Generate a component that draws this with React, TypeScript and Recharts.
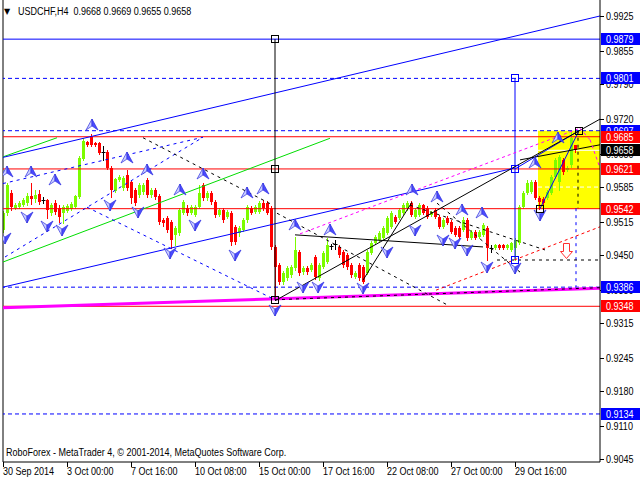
import { ComposedChart, Bar, XAxis, YAxis, ReferenceLine, ReferenceArea, Scatter } from "recharts"

const FONT = "'Liberation Sans', Arial, sans-serif"
const NARROW = 0.82
const BULL = "#7cfc00"
const BEAR = "#ff0000"

// USDCHF H4 candles, bar 0 = 30 Sep 2014 08:00
const opens = [
  0.95, 0.9533, 0.9573, 0.9543, 0.9545, 0.9549, 0.9553, 0.9567, 0.9561, 0.9571,
  0.9559, 0.9559, 0.9533, 0.9553, 0.9543, 0.9533, 0.9537, 0.9541, 0.9545, 0.9565,
  0.9641, 0.9675, 0.9685, 0.9673, 0.9673, 0.9655, 0.9655, 0.9623, 0.9577, 0.9599,
  0.9583, 0.9609, 0.9595, 0.9579, 0.9569, 0.9575, 0.9599, 0.9569, 0.9579, 0.9567,
  0.952, 0.9524, 0.9516, 0.949, 0.9494, 0.9533, 0.9543, 0.9533, 0.9529, 0.9545,
  0.9589, 0.9563, 0.9573, 0.9555, 0.9529, 0.9539, 0.9526, 0.9533, 0.9506, 0.9494,
  0.95, 0.952, 0.9543, 0.9535, 0.9535, 0.9553, 0.9553, 0.9543, 0.9466, 0.943,
  0.9396, 0.9404, 0.941, 0.9424, 0.9456, 0.9416, 0.9424, 0.942, 0.9446, 0.9404,
  0.9426, 0.9436, 0.9468, 0.9472, 0.9466, 0.9456, 0.945, 0.943, 0.9406, 0.943,
  0.9426, 0.9414, 0.9454, 0.9474, 0.948, 0.9484, 0.9494, 0.9506, 0.9526, 0.9524,
  0.9533, 0.9543, 0.9553, 0.9526, 0.9529, 0.9549, 0.9543, 0.9529, 0.9539, 0.9526,
  0.9506, 0.9524, 0.9516, 0.9504, 0.9504, 0.95, 0.952, 0.9484, 0.9496, 0.9486,
  0.949, 0.9504, 0.9464, 0.9464, 0.947, 0.947, 0.9464, 0.946, 0.9464, 0.9474,
  0.9545, 0.9573, 0.9575, 0.9595, 0.9563, 0.9561, 0.9563, 0.9573, 0.9605, 0.9595,
  0.9639, 0.9619, 0.9629, 0.9668,
]
const highs = [
  0.9537, 0.9593, 0.9579, 0.9553, 0.9557, 0.9563, 0.9573, 0.9593, 0.9579, 0.9579,
  0.9565, 0.9561, 0.9553, 0.9559, 0.9549, 0.9549, 0.9551, 0.9555, 0.9569, 0.9647,
  0.9683, 0.9677, 0.969, 0.9675, 0.9675, 0.9667, 0.9659, 0.9627, 0.9603, 0.9609,
  0.9607, 0.9619, 0.9599, 0.9583, 0.9593, 0.9593, 0.9603, 0.9583, 0.9583, 0.9571,
  0.9524, 0.9527, 0.952, 0.9508, 0.9543, 0.9559, 0.9549, 0.9549, 0.9549, 0.9589,
  0.9593, 0.9577, 0.9577, 0.9559, 0.9543, 0.9543, 0.9539, 0.9537, 0.951, 0.9508,
  0.9524, 0.9549, 0.9547, 0.9549, 0.9557, 0.9559, 0.9557, 0.9547, 0.947, 0.9434,
  0.9418, 0.9428, 0.943, 0.9486, 0.946, 0.9428, 0.9428, 0.9434, 0.945, 0.9434,
  0.9458, 0.9484, 0.9472, 0.948, 0.947, 0.946, 0.9454, 0.9434, 0.9418, 0.9434,
  0.943, 0.946, 0.9478, 0.949, 0.9498, 0.9508, 0.9527, 0.9537, 0.9529, 0.9543,
  0.9553, 0.9557, 0.9557, 0.9543, 0.9553, 0.9551, 0.9547, 0.9537, 0.9543, 0.9529,
  0.9524, 0.9527, 0.952, 0.9508, 0.9508, 0.9526, 0.9524, 0.95, 0.95, 0.95,
  0.9514, 0.9508, 0.947, 0.9472, 0.9472, 0.9472, 0.9472, 0.9476, 0.9484, 0.9549,
  0.9577, 0.9599, 0.9599, 0.9599, 0.9567, 0.9565, 0.9579, 0.9609, 0.9643, 0.9649,
  0.9643, 0.9627, 0.9697, 0.9669,
]
const lows = [
  0.9496, 0.9529, 0.9539, 0.9541, 0.9543, 0.9547, 0.9549, 0.9551, 0.9555, 0.9551,
  0.9553, 0.9524, 0.9529, 0.9531, 0.9516, 0.9514, 0.9535, 0.9539, 0.9543, 0.9563,
  0.9639, 0.9667, 0.9667, 0.9667, 0.9651, 0.9639, 0.9621, 0.9565, 0.9575, 0.9597,
  0.9579, 0.9579, 0.9553, 0.9549, 0.9565, 0.9571, 0.9565, 0.9565, 0.9561, 0.9512,
  0.9508, 0.9496, 0.9464, 0.947, 0.949, 0.9531, 0.9529, 0.9531, 0.9527, 0.9543,
  0.9559, 0.9559, 0.9551, 0.9526, 0.9527, 0.9516, 0.9524, 0.947, 0.9472, 0.9488,
  0.9498, 0.9516, 0.9531, 0.9533, 0.9533, 0.9539, 0.9531, 0.9462, 0.9361, 0.9392,
  0.9392, 0.94, 0.9406, 0.942, 0.941, 0.9412, 0.9412, 0.9418, 0.9402, 0.94,
  0.9424, 0.9434, 0.9462, 0.9462, 0.9446, 0.9426, 0.9422, 0.9406, 0.9404, 0.94,
  0.9394, 0.9412, 0.9452, 0.9472, 0.9478, 0.9482, 0.9492, 0.9504, 0.9514, 0.9522,
  0.9531, 0.9539, 0.9527, 0.9524, 0.9527, 0.9531, 0.9524, 0.9527, 0.9524, 0.9504,
  0.9504, 0.9512, 0.9494, 0.9488, 0.9484, 0.9498, 0.948, 0.9482, 0.9482, 0.9484,
  0.9488, 0.944, 0.9456, 0.9462, 0.9462, 0.9462, 0.9462, 0.9458, 0.944, 0.9472,
  0.9543, 0.9571, 0.9573, 0.9561, 0.9542, 0.9551, 0.9561, 0.9571, 0.9603, 0.9579,
  0.9611, 0.9617, 0.9625, 0.9655,
]
const closes = [
  0.9533, 0.9589, 0.9545, 0.9549, 0.9553, 0.9559, 0.9567, 0.9561, 0.9569, 0.9555,
  0.9559, 0.9539, 0.9549, 0.9535, 0.9526, 0.9545, 0.9547, 0.9551, 0.9567, 0.9643,
  0.9677, 0.9669, 0.9669, 0.9669, 0.9653, 0.9655, 0.9623, 0.9579, 0.9601, 0.9605,
  0.9603, 0.9583, 0.9563, 0.9553, 0.9589, 0.9589, 0.9569, 0.9579, 0.9565, 0.9516,
  0.9514, 0.95, 0.948, 0.9504, 0.9539, 0.9555, 0.9533, 0.9545, 0.9545, 0.9573,
  0.9563, 0.9573, 0.9555, 0.9529, 0.9539, 0.952, 0.9535, 0.9476, 0.9476, 0.9504,
  0.952, 0.9545, 0.9533, 0.9545, 0.9553, 0.9543, 0.9533, 0.9466, 0.9426, 0.9396,
  0.9414, 0.9424, 0.9426, 0.946, 0.9414, 0.9424, 0.9416, 0.943, 0.9406, 0.943,
  0.9454, 0.947, 0.9468, 0.9472, 0.945, 0.943, 0.9426, 0.941, 0.9414, 0.9404,
  0.9396, 0.9456, 0.9474, 0.9486, 0.9494, 0.9504, 0.9524, 0.9533, 0.9516, 0.9539,
  0.9549, 0.9553, 0.9529, 0.9539, 0.9549, 0.9533, 0.9526, 0.9535, 0.9526, 0.9506,
  0.952, 0.9514, 0.9496, 0.949, 0.9486, 0.952, 0.9484, 0.9496, 0.9484, 0.9496,
  0.951, 0.9464, 0.9464, 0.947, 0.9464, 0.9464, 0.947, 0.9474, 0.948, 0.9545,
  0.9573, 0.9593, 0.9595, 0.9563, 0.9555, 0.9553, 0.9575, 0.9605, 0.9639, 0.9645,
  0.9615, 0.9623, 0.9683, 0.9658,
]

const dateTicks = [0, 16, 32, 48, 64, 80, 96, 112, 128]
const dateLabels = [
  "30 Sep 2014", "3 Oct 00:00", "7 Oct 16:00", "10 Oct 08:00", "15 Oct 00:00",
  "17 Oct 16:00", "22 Oct 08:00", "27 Oct 00:00", "29 Oct 16:00",
]
const priceTicks = [0.9925, 0.9855, 0.979, 0.972, 0.965, 0.9585, 0.9515, 0.945, 0.938, 0.9315, 0.9245, 0.918, 0.911, 0.9045]

// horizontal levels
const mainTarget = 0.9879
const targetLevels = [0.9801, 0.9697, 0.9386, 0.9134]
const pivotLevels = [0.9685, 0.9621, 0.9542, 0.9348]
const bidPrice = closes[closes.length - 1]
const zoneTop = 0.9697
const zoneBottom = 0.9542
const zoneStart = 133.65

// trend lines: [bar1, price1, bar2, price2]
const blueSolidLines = [
  [-0.1, 0.9644, 149.15, 0.9925],
  [-0.1, 0.9386, 127.9, 0.9623],
  [127.9, 0.9621, 143.9, 0.9697],
  [134.15, 0.9542, 143.9, 0.9697],
  [127.9, 0.9801, 127.9, 0.944],
]
const blackSolidLines = [
  [67.9, 0.9879, 67.9, 0.9361],
  [67.9, 0.9359, 149.15, 0.972],
  [129.15, 0.9639, 149.15, 0.9669],
  [72.9, 0.949, 119.9, 0.9466],
  [89.9, 0.94, 102.15, 0.9555],
]
const greenLines = [
  [-0.1, 0.9645, 13.4, 0.9683],
  [-0.1, 0.9436, 81.65, 0.9682],
]
const blueDashedLines = [
  [0.4, 0.9446, 49.9, 0.9684],
  [-0.1, 0.9592, 49.9, 0.9684],
  [20.9, 0.9545, 67.9, 0.9361],
  [143.15, 0.9543, 143.15, 0.9386],
]
const blackDashedLines = [
  [34.9, 0.9683, 67.4, 0.9549],
  [68.4, 0.9533, 110.9, 0.9351],
  [101.65, 0.9549, 135.4, 0.946],
  [108.4, 0.9553, 129.15, 0.9416],
  [123.4, 0.944, 149.15, 0.944],
  [67.9, 0.9361, 149.15, 0.9385],
  [143.65, 0.9697, 143.65, 0.9543],
]
const magentaDashedLines = [
  [74.15, 0.9492, 144.15, 0.9702],
  [144.15, 0.9702, 146.65, 0.9679],
  [146.65, 0.9679, 149.15, 0.9623],
]
const magentaThickLine = [-0.1, 0.9345, 149.15, 0.9384]
const redDashedLines = [[108.15, 0.938, 149.15, 0.9506]]

// fractals: [bar, price]
const upFractals = [
  [0.9, 0.9615], [6.9, 0.9615], [12.9, 0.9599], [22.15, 0.9708], [30.9, 0.9643], [35.9, 0.9619],
  [44.15, 0.9579], [49.9, 0.9611], [60.9, 0.9573], [64.9, 0.9581], [72.9, 0.951], [81.65, 0.95],
  [102.15, 0.9579], [108.4, 0.9565], [114.65, 0.9539], [119.65, 0.9533], [132.9, 0.9633], [138.65, 0.9683],
]
const downFractals = [
  [0.4, 0.9484], [5.9, 0.9526], [10.9, 0.9508], [14.65, 0.95], [26.65, 0.9549], [33.65, 0.9535],
  [41.65, 0.9454], [47.9, 0.951], [57.9, 0.945], [67.9, 0.9341], [74.9, 0.9386], [78.65, 0.9386],
  [89.9, 0.9384], [95.9, 0.9456], [102.9, 0.95], [109.9, 0.948], [112.9, 0.9474], [115.9, 0.946],
  [120.9, 0.9426], [127.9, 0.9424], [134.15, 0.9529],
]
const blackPoints = [[67.9, 0.9879], [67.9, 0.9621], [67.9, 0.9361], [134.15, 0.9542], [143.9, 0.9697]]
const bluePoints = [[127.9, 0.9801], [127.9, 0.9621], [127.9, 0.944]]
const sellSignal = [[140.65, 0.9458]]

const candles = opens.map((o, i) => ({ i, o, h: highs[i], l: lows[i], c: closes[i], range: [lows[i], highs[i]] }))
const toPoints = (arr: number[][]) => arr.map(([i, p]) => ({ i, p }))

const Candle = (props: any) => {
  const { x, y, width, height, payload } = props
  if (x == null || !payload) return null
  const top = Math.min(y, y + height)
  const span = Math.abs(height)
  const { o, h, l, c } = payload
  const k = h > l ? span / (h - l) : 0
  const cx = Math.round(x + width / 2 - 0.5) + 0.5
  const color = c > o ? BULL : c < o ? BEAR : "#000"
  const yo = Math.round(top + (h - o) * k)
  const yc = Math.round(top + (h - c) * k)
  return (
    <g>
      <line x1={cx} x2={cx} y1={Math.round(top)} y2={Math.round(top + span) + 1} stroke={color} strokeWidth={1} />
      {c === o ? (
        <line x1={cx - 2} x2={cx + 2} y1={yo + 0.5} y2={yo + 0.5} stroke={color} strokeWidth={1} />
      ) : (
        <rect x={cx - 1.5} y={Math.min(yo, yc)} width={3} height={Math.max(1, Math.abs(yc - yo))} fill={color} />
      )}
    </g>
  )
}

const FractalUp = (props: any) => {
  const { cx, cy } = props
  return (
    <g transform={`translate(${Math.round(cx)},${Math.round(cy)})`}>
      <polygon points="0,-6 -6,5 0,1" fill="#c9cdff" stroke="#3030e0" strokeWidth={0.7} />
      <polygon points="0,-6 6,5 0,1" fill="#4a4aff" stroke="#3030e0" strokeWidth={0.7} />
    </g>
  )
}

const FractalDown = (props: any) => {
  const { cx, cy } = props
  return (
    <g transform={`translate(${Math.round(cx)},${Math.round(cy)})`}>
      <polygon points="0,6 -6,-5 0,-1" fill="#c9cdff" stroke="#3030e0" strokeWidth={0.7} />
      <polygon points="0,6 6,-5 0,-1" fill="#4a4aff" stroke="#3030e0" strokeWidth={0.7} />
    </g>
  )
}

const makeSquare = (color: string) => (props: any) => {
  const { cx, cy } = props
  return <rect x={Math.round(cx) - 3.5} y={Math.round(cy) - 3.5} width={7} height={7} fill="none" stroke={color} strokeWidth={1} />
}

const SellArrow = (props: any) => {
  const { cx, cy } = props
  return (
    <g transform={`translate(${Math.round(cx) + 0.5},${Math.round(cy) + 0.5})`}>
      <polygon points="-3,-8 3,-8 3,0 6,0 0,7 -6,0 -3,0" fill="#fff" stroke="#ff3030" strokeWidth={1} />
    </g>
  )
}

// narrow text, like the terminal's small font
const NarrowText = ({ x, y, fill, children }: any) => (
  <text transform={`translate(${x},${y}) scale(${NARROW},1)`} fill={fill} fontSize={11} fontFamily={FONT}>
    {children}
  </text>
)

const levelColor = (v: number) => {
  if (v === mainTarget || targetLevels.includes(v)) return "#0000ff"
  if (pivotLevels.includes(v)) return "#ff0000"
  if (v === bidPrice) return "#000000"
  return null
}

const PriceTick = (props: any) => {
  const { x, y, payload } = props
  const v = payload.value
  const yy = Math.round(y)
  const box = levelColor(v)
  if (box) {
    return (
      <g>
        <rect x={x + 1} y={yy - 6} width={39} height={12} fill={box} />
        <NarrowText x={x + 6} y={yy + 4} fill="#fff">{v.toFixed(4)}</NarrowText>
      </g>
    )
  }
  return (
    <g>
      <line x1={x} x2={x + 4} y1={yy + 0.5} y2={yy + 0.5} stroke="#000" />
      <NarrowText x={x + 6} y={yy + 4} fill="#000">{v.toFixed(4)}</NarrowText>
    </g>
  )
}

const DateTick = (props: any) => {
  const { x, y, payload } = props
  const k = dateTicks.indexOf(payload.value)
  const xx = Math.round(x) + 0.5
  return (
    <g>
      <line x1={xx} x2={xx} y1={y} y2={y + 5} stroke="#000" />
      <NarrowText x={xx - 0.5} y={y + 13} fill="#000">{dateLabels[k]}</NarrowText>
    </g>
  )
}

const seg = (s: number[]) => [{ x: s[0], y: s[1] }, { x: s[2], y: s[3] }]

export default function App() {
  return (
    <div style={{ position: "absolute", left: 0, top: 0, width: 640, height: 480, background: "#fff" }}>
      <ComposedChart width={640} height={480} data={candles} margin={{ top: 0, right: 0, bottom: 0, left: 3 }}>
        <XAxis
          dataKey="i"
          type="number"
          domain={[-0.1, 149.15]}
          allowDataOverflow
          ticks={dateTicks}
          interval={0}
          height={18}
          tickSize={0}
          tickMargin={0}
          tickLine={false}
          axisLine={{ stroke: "#000" }}
          tick={<DateTick />}
        />
        <YAxis
          type="number"
          orientation="right"
          domain={[0.90385, 0.99568]}
          allowDataOverflow
          ticks={[...priceTicks, mainTarget, targetLevels[0], targetLevels[1], pivotLevels[0], bidPrice, pivotLevels[1], pivotLevels[2], targetLevels[2], pivotLevels[3], targetLevels[3]]}
          interval={0}
          width={40}
          tickSize={0}
          tickMargin={0}
          tickLine={false}
          axisLine={{ stroke: "#000" }}
          tick={<PriceTick />}
        />
        <ReferenceArea x1={zoneStart} x2={149.15} y1={zoneBottom} y2={zoneTop} fill="#ffff00" fillOpacity={1} stroke="none" zIndex={50} />
        <ReferenceLine y={bidPrice} stroke="#fff" zIndex={60} />
        <ReferenceLine segment={seg([zoneStart, 0.9585, 149.15, 0.9585])} stroke="#fff" strokeDasharray="4 3" zIndex={60} />
        <Bar dataKey="range" barSize={3} shape={<Candle />} isAnimationActive={false} />
        <ReferenceLine x={-0.1} stroke="#000" />
        <ReferenceLine y={mainTarget} stroke="#0000ff" />
        {targetLevels.map((v) => (
          <ReferenceLine key={"t" + v} y={v} stroke="#0000ff" strokeDasharray="4 3" />
        ))}
        {pivotLevels.map((v) => (
          <ReferenceLine key={"p" + v} y={v} stroke="#ff0000" />
        ))}
        <ReferenceLine segment={seg(magentaThickLine)} stroke="#ff00ff" strokeWidth={3} />
        {greenLines.map((s, k) => (
          <ReferenceLine key={"g" + k} segment={seg(s)} stroke="#00dd00" />
        ))}
        {blueSolidLines.map((s, k) => (
          <ReferenceLine key={"bs" + k} segment={seg(s)} stroke="#0000ff" />
        ))}
        {blueDashedLines.map((s, k) => (
          <ReferenceLine key={"bd" + k} segment={seg(s)} stroke="#0000ff" strokeDasharray="3 4" />
        ))}
        {blackSolidLines.map((s, k) => (
          <ReferenceLine key={"ks" + k} segment={seg(s)} stroke="#000" />
        ))}
        {blackDashedLines.map((s, k) => (
          <ReferenceLine key={"kd" + k} segment={seg(s)} stroke="#000" strokeDasharray="3 4" />
        ))}
        {magentaDashedLines.map((s, k) => (
          <ReferenceLine key={"md" + k} segment={seg(s)} stroke="#ff00ff" strokeDasharray="3 3" />
        ))}
        {redDashedLines.map((s, k) => (
          <ReferenceLine key={"rd" + k} segment={seg(s)} stroke="#ff0000" strokeDasharray="3 3" />
        ))}
        <Scatter data={toPoints(upFractals)} dataKey="p" shape={<FractalUp />} isAnimationActive={false} />
        <Scatter data={toPoints(downFractals)} dataKey="p" shape={<FractalDown />} isAnimationActive={false} />
        <Scatter data={toPoints(blackPoints)} dataKey="p" shape={makeSquare("#000")} isAnimationActive={false} />
        <Scatter data={toPoints(bluePoints)} dataKey="p" shape={makeSquare("#0000ff")} isAnimationActive={false} />
        <Scatter data={toPoints(sellSignal)} dataKey="p" shape={<SellArrow />} isAnimationActive={false} />
      </ComposedChart>
      <svg width={640} height={480} style={{ position: "absolute", left: 0, top: 0, pointerEvents: "none" }}>
        <text x={4} y={14} fontSize={8} fontFamily="DejaVu Sans" fill="#000">▼</text>
        <NarrowText x={18} y={15} fill="#000">
          <tspan style={{ whiteSpace: "pre" }}>{"USDCHF,H4  0.9668 0.9669 0.9655 0.9658"}</tspan>
        </NarrowText>
        <NarrowText x={6} y={456} fill="#000">
          RoboForex - MetaTrader 4, © 2001-2014, MetaQuotes Software Corp.
        </NarrowText>
      </svg>
    </div>
  )
}
